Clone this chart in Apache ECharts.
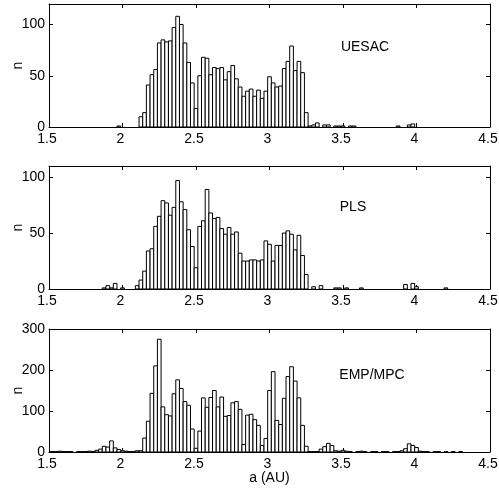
<!DOCTYPE html>
<html>
<head>
<meta charset="utf-8">
<script src="https://cdn.jsdelivr.net/npm/echarts@6/dist/echarts.min.js"></script>
<style>
html, body { margin: 0; padding: 0; background: #fff; }
#chart { width: 499px; height: 495px; }
</style>
</head>
<body>
<div id="chart"></div>
<script>
// Histogram bins: semi-major axis a (AU), bin i is centred at binStart + i * binWidth
const binStart = 1.5;
const binWidth = 0.025;

// Counts per bin, 121 bins from 1.5 to 4.5 AU (rows of ten bins)
const uesacCounts = [
  0, 0, 0, 0, 0, 0, 0, 0, 0, 0,
  0, 0, 0, 0, 0, 0, 0, 0, 0, 1,
  0, 0, 0, 0, 0, 10, 14, 41, 51, 56,
  82, 85, 83, 84, 97, 108, 100, 82, 63, 43,
  18, 50, 68, 67, 51, 58, 57, 58, 46, 54,
  60, 47, 39, 30, 35, 37, 30, 36, 28, 35,
  49, 43, 39, 40, 57, 64, 79, 55, 64, 53,
  14, 1, 2, 4, 0, 2, 2, 0, 1, 1,
  1, 0, 1, 1, 0, 0, 0, 0, 0, 0,
  0, 0, 0, 0, 0, 1, 0, 0, 2, 3,
  0, 0, 0, 0, 0, 0, 0, 0, 0, 0,
  0, 0, 0, 0, 0, 0, 0, 0, 0, 0,
  0
];

const plsCounts = [
  0, 0, 0, 0, 0, 0, 0, 0, 0, 0,
  0, 0, 0, 0, 0, 1, 3, 1, 5, 0,
  1, 0, 0, 0, 3, 8, 16, 34, 36, 56,
  65, 79, 77, 66, 73, 97, 78, 71, 53, 38,
  19, 56, 61, 89, 68, 63, 64, 54, 49, 55,
  49, 51, 32, 25, 25, 26, 26, 25, 26, 43,
  40, 25, 39, 39, 50, 52, 49, 35, 48, 30,
  13, 0, 2, 0, 3, 0, 0, 0, 1, 1,
  0, 1, 0, 0, 0, 1, 0, 0, 0, 0,
  0, 0, 0, 0, 0, 0, 0, 4, 0, 5,
  2, 0, 0, 0, 0, 0, 0, 0, 1, 0,
  0, 0, 0, 0, 0, 0, 0, 0, 0, 0,
  0
];

const empCounts = [
  1, 1, 1, 2, 1, 1, 1, 0, 1, 1,
  1, 2, 1, 4, 7, 14, 12, 27, 10, 6,
  3, 2, 1, 1, 3, 3, 34, 75, 143, 210,
  275, 110, 91, 88, 142, 176, 155, 123, 114, 56,
  9, 51, 132, 109, 133, 150, 110, 134, 87, 89,
  120, 123, 104, 18, 90, 92, 79, 65, 16, 33,
  150, 196, 77, 67, 131, 184, 208, 173, 132, 65,
  14, 1, 1, 1, 7, 13, 21, 16, 3, 2,
  4, 2, 1, 0, 1, 2, 1, 0, 1, 1,
  0, 1, 1, 0, 1, 1, 3, 8, 20, 16,
  11, 2, 1, 1, 0, 1, 1, 0, 1, 0,
  1, 0, 1, 0, 0, 0, 0, 0, 0, 0,
  0
];

const panelNames = ['UESAC', 'PLS', 'EMP/MPC'];
const yMax = [120, 110, 300];
const yStep = [50, 50, 100];
const xTickStep = 0.5;
const xRange = [1.5, 4.5];
const yTitle = 'n';
const xTitle = 'a (AU)';

const FONT = '"Liberation Sans Narrow", "Liberation Sans", Arial, sans-serif';
const panelTops = [4, 166, 329];
const panelHeight = 123;
const nameSpots = [[365, 47], [353, 207], [372, 375]];
const countSets = [uesacCounts, plsCounts, empCounts];

const chart = echarts.init(document.getElementById('chart'), null, { renderer: 'canvas' });

const grid = [], xAxis = [], yAxis = [], series = [], graphic = [];

countSets.forEach((counts, k) => {
  grid.push({ left: 49, right: 9, top: panelTops[k], height: panelHeight, containLabel: false, outerBoundsMode: 'none' });

  const xCommon = {
    gridIndex: k, type: 'value', min: xRange[0], max: xRange[1], interval: xTickStep,
    splitLine: { show: false },
    axisLine: { show: true, onZero: false, lineStyle: { color: '#000', width: 1 } },
    axisTick: { show: true, inside: true, length: 4, lineStyle: { color: '#000' } }
  };
  xAxis.push(Object.assign({}, xCommon, {
    position: 'bottom',
    axisLabel: { color: '#000', fontFamily: FONT, fontSize: 14, margin: 5, padding: [0, 4, 0, 0] },
    name: k === 2 ? xTitle : '',
    nameLocation: 'middle', nameGap: 19, nameMoveOverlap: false,
    nameTextStyle: { color: '#000', fontFamily: FONT, fontSize: 14 }
  }));
  xAxis.push(Object.assign({}, xCommon, { position: 'top', axisLabel: { show: false } }));

  const yCommon = {
    gridIndex: k, type: 'value', min: 0, max: yMax[k], interval: yStep[k],
    splitLine: { show: false },
    axisLine: { show: true, onZero: false, lineStyle: { color: '#000', width: 1 } },
    axisTick: { show: true, inside: true, length: 4, lineStyle: { color: '#000' } }
  };
  yAxis.push(Object.assign({}, yCommon, {
    position: 'left',
    axisLabel: {
      color: '#000', fontFamily: FONT, fontSize: 14, margin: 4,
      formatter: v => (v % yStep[k] === 0 ? String(v) : '')
    },
    name: yTitle, nameLocation: 'middle', nameRotate: 90, nameGap: 24, nameMoveOverlap: false,
    nameTextStyle: { color: '#000', fontFamily: FONT, fontSize: 14 }
  }));
  yAxis.push(Object.assign({}, yCommon, { position: 'right', axisLabel: { show: false } }));

  const data = [];
  counts.forEach((c, i) => { if (c > 0) data.push([binStart + i * binWidth, c]); });

  series.push({
    type: 'custom',
    xAxisIndex: 2 * k, yAxisIndex: 2 * k,
    clip: true,
    data: data,
    renderItem: (params, api) => {
      const x = api.value(0), y = api.value(1);
      const pTop = api.coord([x - binWidth / 2, y]);
      const pBot = api.coord([x + binWidth / 2, 0]);
      return {
        type: 'rect',
        shape: { x: pTop[0], y: pTop[1], width: pBot[0] - pTop[0], height: pBot[1] - pTop[1] },
        style: { fill: '#fff', stroke: '#000', lineWidth: 1 }
      };
    },
    silent: true,
    animation: false
  });

  graphic.push({
    type: 'text', x: nameSpots[k][0], y: nameSpots[k][1],
    style: { text: panelNames[k], fill: '#000', font: '14px ' + FONT, textAlign: 'center', textVerticalAlign: 'middle' }
  });
});

chart.setOption({
  animation: false,
  backgroundColor: '#fff',
  grid, xAxis, yAxis, series, graphic
});
</script>
</body>
</html>
